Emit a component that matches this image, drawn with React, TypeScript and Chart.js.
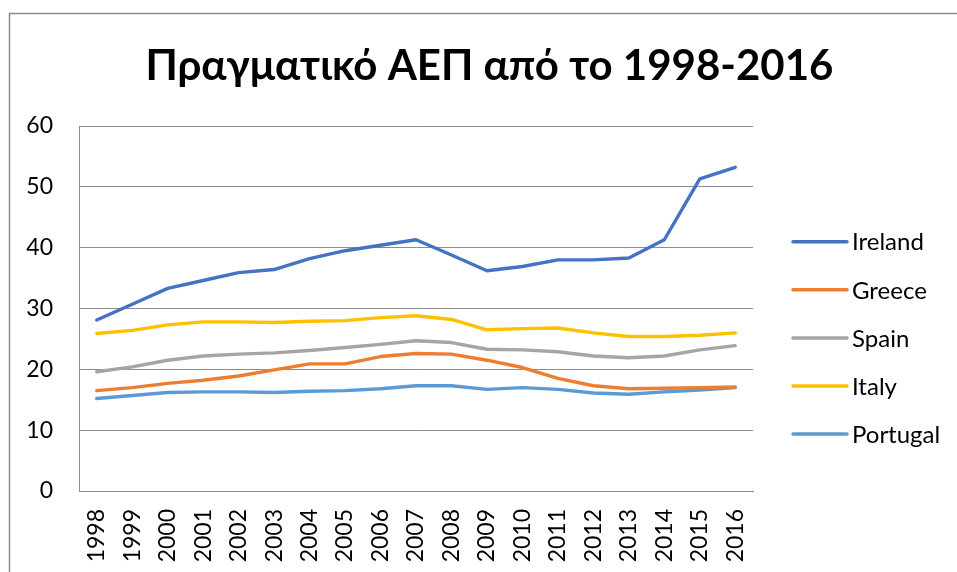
import { useEffect, useRef } from 'react';
import { Chart, registerables } from 'chart.js';

Chart.register(...registerables);

const TITLE = 'Πραγματικό ΑΕΠ από το 1998-2016';

const years = ['1998', '1999', '2000', '2001', '2002', '2003', '2004', '2005', '2006', '2007', '2008', '2009', '2010', '2011', '2012', '2013', '2014', '2015', '2016'];

const ireland = [28.1, 30.7, 33.3, 34.6, 35.9, 36.4, 38.2, 39.5, 40.4, 41.3, 38.8, 36.2, 36.9, 38.0, 38.0, 38.3, 41.3, 51.3, 53.2];
const greece = [16.5, 17.0, 17.7, 18.2, 18.9, 19.9, 20.9, 20.9, 22.1, 22.6, 22.5, 21.5, 20.3, 18.5, 17.3, 16.8, 16.9, 17.0, 17.1];
const spain = [19.6, 20.4, 21.5, 22.2, 22.5, 22.7, 23.1, 23.6, 24.1, 24.7, 24.4, 23.3, 23.2, 22.9, 22.2, 21.9, 22.2, 23.2, 23.9];
const italy = [25.9, 26.4, 27.3, 27.8, 27.8, 27.7, 27.9, 28.0, 28.5, 28.8, 28.2, 26.5, 26.7, 26.8, 26.0, 25.4, 25.4, 25.6, 26.0];
const portugal = [15.2, 15.7, 16.2, 16.3, 16.3, 16.2, 16.4, 16.5, 16.8, 17.3, 17.3, 16.7, 17.0, 16.7, 16.1, 15.9, 16.3, 16.6, 17.0];

const seriesNames = ['Ireland', 'Greece', 'Spain', 'Italy', 'Portugal'];
const seriesColors = ['#4472C4', '#ED7D31', '#A5A5A5', '#FFC000', '#5B9BD5'];
const seriesValues = [ireland, greece, spain, italy, portugal];

const Y_MIN = 0;
const Y_MAX = 60;
const Y_STEP = 10;

const GRID = '#8c8c8c';
const FONT = 'Lato, "Open Sans", sans-serif';

const decorPlugin = {
  id: 'decor',
  beforeDraw(chart: any) {
    const ctx = chart.ctx;
    ctx.save();
    ctx.fillStyle = '#ffffff';
    ctx.fillRect(0, 0, chart.width, chart.height);
    ctx.strokeStyle = GRID;
    ctx.lineWidth = 1.5;
    ctx.beginPath();
    ctx.moveTo(9.5, chart.height);
    ctx.lineTo(9.5, 13.5);
    ctx.lineTo(chart.width, 13.5);
    ctx.stroke();
    ctx.restore();
  },
  afterDraw(chart: any) {
    const ctx = chart.ctx;
    ctx.save();
    // title
    ctx.fillStyle = '#000000';
    ctx.font = `bold 42px ${FONT}`;
    ctx.textAlign = 'center';
    ctx.textBaseline = 'alphabetic';
    ctx.fillText(TITLE, 489.5, 79.5);
    // legend
    const x0 = 793;
    const lineLen = 54;
    chart.data.datasets.forEach((ds: any, i: number) => {
      const y = 241.7 + 48.1 * i;
      ctx.strokeStyle = ds.borderColor;
      ctx.lineWidth = 3.5;
      ctx.lineCap = 'round';
      ctx.beginPath();
      ctx.moveTo(x0, y);
      ctx.lineTo(x0 + lineLen, y);
      ctx.stroke();
      ctx.fillStyle = '#000000';
      ctx.font = `24px ${FONT}`;
      ctx.textAlign = 'left';
      ctx.textBaseline = 'middle';
      ctx.fillText(ds.label, x0 + lineLen + 5, y + 1);
    });
    ctx.restore();
  },
};

export default function App() {
  const canvasRef = useRef<HTMLCanvasElement | null>(null);

  useEffect(() => {
    const canvas = canvasRef.current;
    if (!canvas) return;
    const chart = new Chart(canvas, {
      type: 'line',
      data: {
        labels: years,
        datasets: seriesNames.map((name, i) => ({
          label: name,
          data: seriesValues[i],
          borderColor: seriesColors[i],
          backgroundColor: seriesColors[i],
          borderWidth: 3.4,
          borderCapStyle: 'round' as const,
          borderJoinStyle: 'round' as const,
          pointRadius: 0,
          pointHoverRadius: 0,
          tension: 0,
          fill: false,
        })),
      },
      options: {
        responsive: false,
        animation: false,
        events: [],
        layout: { padding: { top: 126, right: 204, bottom: 0, left: 0 } },
        plugins: {
          legend: { display: false },
          title: { display: false },
          tooltip: { enabled: false },
        },
        scales: {
          x: {
            type: 'category',
            offset: true,
            grid: { display: false, drawTicks: false },
            border: { display: true, color: GRID, width: 1 },
            ticks: {
              color: '#000000',
              font: { family: FONT, size: 23 },
              minRotation: 90,
              maxRotation: 90,
              padding: 18,
              autoSkip: false,
            },
            afterFit(scale: any) {
              scale.height = 81;
            },
          },
          y: {
            min: Y_MIN,
            max: Y_MAX,
            grid: { color: GRID, lineWidth: 1, drawTicks: false },
            border: { display: true, color: GRID, width: 1 },
            ticks: {
              stepSize: Y_STEP,
              color: '#000000',
              font: { family: FONT, size: 23 },
              padding: 26,
            },
            afterFit(scale: any) {
              scale.width = 79;
            },
          },
        },
      },
      plugins: [decorPlugin],
    });
    return () => chart.destroy();
  }, []);

  return (
    <div style={{ position: 'fixed', left: 0, top: 0, width: 957, height: 572, background: '#fff' }}>
      <canvas ref={canvasRef} width={957} height={572} style={{ display: 'block' }} />
    </div>
  );
}
